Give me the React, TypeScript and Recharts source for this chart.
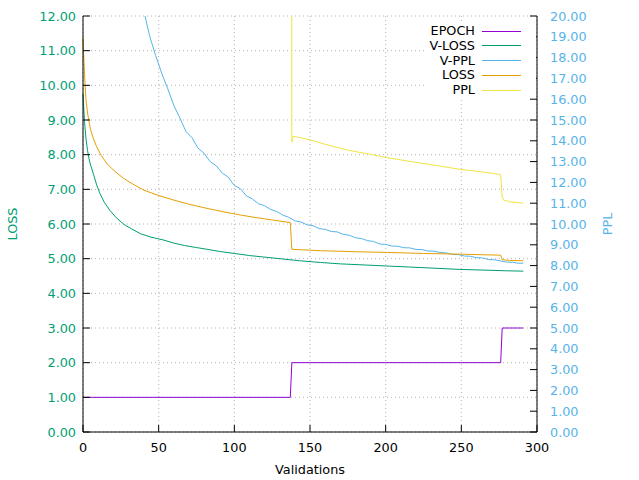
import { LineChart, Line, XAxis, YAxis, CartesianGrid, Legend, Label } from 'recharts'

const X_TICKS = [0, 50, 100, 150, 200, 250, 300]
const LOSS_TICKS = [0, 1, 2, 3, 4, 5, 6, 7, 8, 9, 10, 11, 12]
const PPL_TICKS = [0, 1, 2, 3, 4, 5, 6, 7, 8, 9, 10, 11, 12, 13, 14, 15, 16, 17, 18, 19, 20]

// [validation, value]
const epoch: [number, number][] = [
  [0, 1], [137, 1], [138, 2], [276, 2], [277, 3], [291, 3],
]

const vLoss: [number, number][] = [
  [0, 9.75], [1, 8.95], [2, 8.45], [3, 8.12], [4, 7.88], [5, 7.7], [7, 7.43], [9, 7.13],
  [11, 6.9], [14, 6.63], [18, 6.38], [22, 6.18], [27, 5.99], [32, 5.86], [38, 5.72],
  [45, 5.62], [53, 5.54], [60, 5.45], [67, 5.38], [75, 5.32], [82, 5.27], [90, 5.21],
  [100, 5.15], [110, 5.09], [121, 5.04], [132, 4.99], [143, 4.94], [157, 4.89],
  [170, 4.85], [185, 4.82], [200, 4.79], [215, 4.76], [230, 4.73], [249, 4.69],
  [265, 4.67], [280, 4.65], [291, 4.64],
]

const vPpl: [number, number][] = [
  [0, 120], [5, 75], [10, 55], [15, 42], [20, 34], [25, 28.5], [30, 24.7], [35, 22],
  [40, 20.3], [44, 19.05], [48, 18.1], [52, 17.25], [56, 16.5], [60, 15.7], [64, 15.1],
  [68, 14.45], [72, 14.15], [76, 13.65], [80, 13.4], [84, 13.0], [88, 12.8], [92, 12.45],
  [96, 12.25], [100, 11.85], [104, 11.7], [108, 11.35], [112, 11.2], [116, 10.97],
  [120, 10.88], [124, 10.7], [128, 10.6], [132, 10.43], [136, 10.32], [140, 10.15],
  [144, 10.1], [148, 9.96], [152, 9.92], [156, 9.78], [160, 9.74], [164, 9.64],
  [168, 9.62], [172, 9.5], [176, 9.46], [180, 9.34], [184, 9.3], [188, 9.2], [192, 9.16],
  [196, 9.04], [200, 9.02], [204, 8.94], [208, 8.93], [212, 8.86], [216, 8.85],
  [220, 8.78], [224, 8.77], [228, 8.7], [232, 8.69], [236, 8.63], [240, 8.61],
  [244, 8.54], [248, 8.53], [252, 8.46], [256, 8.45], [260, 8.38], [264, 8.37],
  [268, 8.29], [272, 8.28], [276, 8.22], [280, 8.17], [284, 8.16], [288, 8.11], [291, 8.12],
]

const loss: [number, number][] = [
  [0, 11.36], [1, 10.3], [2, 9.58], [3, 9.2], [4, 8.95], [5, 8.72], [7, 8.45], [9, 8.23],
  [12, 7.98], [16, 7.73], [21, 7.52], [27, 7.31], [33, 7.15], [40, 6.98], [50, 6.82],
  [60, 6.69], [70, 6.57], [82, 6.45], [93, 6.35], [104, 6.26], [115, 6.18], [126, 6.11],
  [137, 6.04], [138, 5.27], [157, 5.23], [180, 5.2], [201, 5.18], [225, 5.15],
  [249, 5.13], [276, 5.1], [277, 4.97], [282, 4.95], [291, 4.94],
]

const ppl: [number, number][] = [
  [137, 400], [138, 13.94], [139, 14.22], [150, 14.05], [160, 13.83], [175, 13.55],
  [190, 13.35], [200, 13.2], [215, 13.02], [230, 12.85], [249, 12.63], [262, 12.52],
  [276, 12.38], [277, 11.3], [278, 11.15], [282, 11.07], [291, 11.0],
]

const SERIES = [
  { name: 'EPOCH', color: '#9400d3', axis: 'l', points: epoch },
  { name: 'V-LOSS', color: '#009e73', axis: 'l', points: vLoss },
  { name: 'V-PPL', color: '#56b4e9', axis: 'r', points: vPpl },
  { name: 'LOSS', color: '#e69f00', axis: 'l', points: loss },
  { name: 'PPL', color: '#f0e442', axis: 'r', points: ppl },
]

const FONT = 12.8
const toRows = (pts: [number, number][]) => pts.map(([x, y]) => ({ x, y }))

function KeyBox() {
  return (
    <svg width={110} height={74} style={{ display: 'block', background: '#fff' }}>
      {SERIES.map((s, i) => {
        const cy = 7.5 + i * 14.8
        return (
          <g key={s.name}>
            <text x={49} y={cy} textAnchor="end" dominantBaseline="central" fontSize={FONT} fill="#000">
              {s.name}
            </text>
            <line x1={56} x2={95} y1={Math.round(cy) + 0.5} y2={Math.round(cy) + 0.5} stroke={s.color} strokeWidth={1} />
          </g>
        )
      })}
    </svg>
  )
}

function sideLabel(text: string, color: string, dx: number) {
  return (props: any) => {
    const vb = props.viewBox || { x: 0, y: 16, width: 0, height: 416 }
    const cx = vb.x + dx
    const cy = vb.y + vb.height / 2
    return (
      <text
        x={cx}
        y={cy}
        transform={`rotate(-90 ${cx} ${cy})`}
        textAnchor="middle"
        dominantBaseline="central"
        fontSize={FONT}
        fill={color}
      >
        {text}
      </text>
    )
  }
}

export default function App() {
  return (
    <div style={{ position: 'absolute', left: 0, top: 0, fontFamily: "'DejaVu Sans', sans-serif", background: '#fff' }}>
      <LineChart width={639} height={480} margin={{ top: 16, right: 0, bottom: 0, left: 0 }}>
        <CartesianGrid xAxisId="b" yAxisId="l" stroke="#b4b4b4" strokeDasharray="1 3" />
        <XAxis
          xAxisId="b"
          type="number"
          dataKey="x"
          domain={[0, 300]}
          ticks={X_TICKS}
          interval={0}
          height={48}
          tickSize={-7}
          tickMargin={18}
          axisLine={{ stroke: '#000' }}
          tickLine={{ stroke: '#000' }}
          tick={{ fill: '#000', fontSize: FONT }}
        >
          <Label value="Validations" position="insideBottom" offset={6} fill="#000" fontSize={FONT} />
        </XAxis>
        <XAxis
          xAxisId="t"
          orientation="top"
          type="number"
          dataKey="x"
          domain={[0, 300]}
          ticks={X_TICKS}
          interval={0}
          height={0}
          tickSize={-7}
          axisLine={{ stroke: '#000' }}
          tickLine={{ stroke: '#000' }}
          tick={false}
        />
        <YAxis
          yAxisId="l"
          type="number"
          domain={[0, 12]}
          ticks={LOSS_TICKS}
          interval={0}
          allowDataOverflow
          width={83}
          tickSize={-7}
          tickMargin={14}
          axisLine={{ stroke: '#000' }}
          tickLine={{ stroke: '#000' }}
          tick={{ fill: '#009e73', fontSize: FONT }}
          tickFormatter={(v: number) => v.toFixed(2)}
        >
          <Label content={sideLabel('LOSS', '#009e73', 12)} />
        </YAxis>
        <YAxis
          yAxisId="r"
          orientation="right"
          type="number"
          domain={[0, 20]}
          ticks={PPL_TICKS}
          interval={0}
          allowDataOverflow
          width={102}
          tickSize={-7}
          tickMargin={20}
          axisLine={{ stroke: '#000' }}
          tickLine={{ stroke: '#000' }}
          tick={{ fill: '#56b4e9', fontSize: FONT, textAnchor: 'start' }}
          tickFormatter={(v: number) => v.toFixed(2)}
        >
          <Label content={sideLabel('PPL', '#56b4e9', 70)} />
        </YAxis>
        {SERIES.map((s) => (
          <Line
            key={s.name}
            name={s.name}
            data={toRows(s.points)}
            dataKey="y"
            xAxisId="b"
            yAxisId={s.axis}
            type="linear"
            stroke={s.color}
            strokeWidth={1}
            dot={false}
            activeDot={false}
            isAnimationActive={false}
          />
        ))}
        <Legend
          layout="vertical"
          align="center"
          verticalAlign="middle"
          wrapperStyle={{ top: 23, left: 426, width: 110, height: 74 }}
          content={() => <KeyBox />}
        />
      </LineChart>
    </div>
  )
}
